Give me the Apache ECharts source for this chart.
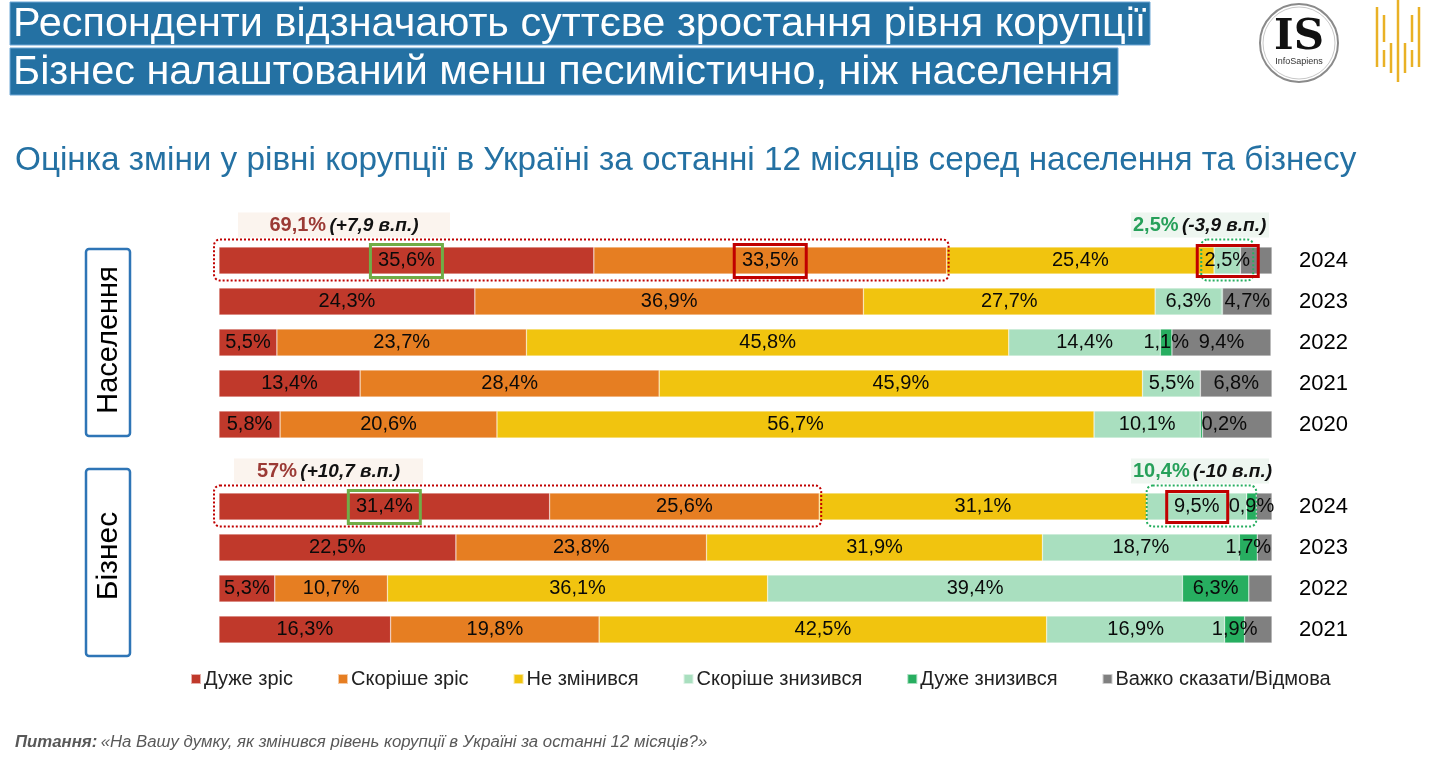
<!DOCTYPE html>
<html><head><meta charset="utf-8">
<script src="https://cdn.jsdelivr.net/npm/echarts@6/dist/echarts.min.js"></script>
<style>html,body{margin:0;padding:0;background:#fff;overflow:hidden}#c{width:1441px;height:757px;}</style>
</head><body><div id="c"></div>
<script>
// ---- data ----
const seriesNames = ['Дуже зріс','Скоріше зріс','Не змінився','Скоріше знизився','Дуже знизився','Важко сказати/Відмова'];
const colors = ['#C0392B','#E67E22','#F1C40F','#A9DFBF','#27AE60','#808080'];
const popYears = ['2024','2023','2022','2021','2020'];
const bizYears = ['2024','2023','2022','2021'];
const popStrongUp   = [35.6, 24.3, 5.5, 13.4, 5.8];
const popRatherUp   = [33.5, 36.9, 23.7, 28.4, 20.6];
const popNoChange   = [25.4, 27.7, 45.8, 45.9, 56.7];
const popRatherDown = [2.5, 6.3, 14.4, 5.5, 10.1];
const popStrongDown = [0, 0.1, 1.1, 0, 0.2];
const popHard       = [3.0, 4.7, 9.4, 6.8, 6.6];
const popHardLabeled = [false, true, true, true, false];
const bizStrongUp   = [31.4, 22.5, 5.3, 16.3];
const bizRatherUp   = [25.6, 23.8, 10.7, 19.8];
const bizNoChange   = [31.1, 31.9, 36.1, 42.5];
const bizRatherDown = [9.5, 18.7, 39.4, 16.9];
const bizStrongDown = [0.9, 1.7, 6.3, 1.9];
const bizHard       = [1.5, 1.4, 2.2, 2.6];
const bizHardLabeled = [false, false, false, false];
const groupLabels = ['Населення', 'Бізнес'];
const titleLine1 = 'Респонденти відзначають суттєве зростання рівня корупції';
const titleLine2 = 'Бізнес налаштований менш песимістично, ніж населення';
const subtitle = 'Оцінка зміни у рівні корупції в Україні за останні 12 місяців серед населення та бізнесу';
const questionLabel = 'Питання:';
const questionText = '«На Вашу думку, як змінився рівень корупції в Україні за останні 12 місяців?»';

// ---- helpers ----
const FONT = 'Arial, "Liberation Sans", sans-serif';
const fmt = v => (Math.round(v * 10) / 10).toString().replace('.', ',');
const fmtSigned = v => (v > 0 ? '+' : '') + fmt(v);

function buildSeries(gridIdx, stack, arrays, hardLabeled) {
  return arrays.map((arr, si) => ({
    name: seriesNames[si], type: 'bar', stack: stack,
    xAxisIndex: gridIdx, yAxisIndex: gridIdx,
    barWidth: 27,
    itemStyle: { color: colors[si], borderColor: 'rgba(255,255,255,0.6)', borderWidth: 0.5 },
    label: { show: true, position: 'inside', fontSize: 20, color: '#0a0a0a', fontFamily: FONT,
             formatter: p => fmt(p.value) + '%' },
    data: arr.map((v, i) => {
      const show = si === 5 ? hardLabeled[i] : v >= 0.2;
      const item = { value: v, label: { show: show } };
      if (show && v < 0.5) { item.label.position = 'insideLeft'; item.label.distance = 1; }
      return item;
    })
  }));
}

const popArrays = [popStrongUp, popRatherUp, popNoChange, popRatherDown, popStrongDown, popHard];
const bizArrays = [bizStrongUp, bizRatherUp, bizNoChange, bizRatherDown, bizStrongDown, bizHard];

const chart = echarts.init(document.getElementById('c'), null, { renderer: 'canvas' });

const yAxisCommon = {
  type: 'category', inverse: true, position: 'right',
  axisLine: { show: false }, axisTick: { show: false },
  axisLabel: { fontSize: 22, color: '#000', margin: 27, fontFamily: FONT }
};

const staticGraphic = [
  // header bars
  { type: 'rect', shape: { x: 10, y: 2, width: 1140, height: 43 }, style: { fill: '#2471A3', stroke: '#6FA8D6', lineWidth: 1 } },
  { type: 'text', x: 13, y: 25, style: { text: titleLine1, fill: '#fff', font: '41.4px ' + FONT, verticalAlign: 'middle' } },
  { type: 'rect', shape: { x: 10, y: 48, width: 1108, height: 47 }, style: { fill: '#2471A3', stroke: '#6FA8D6', lineWidth: 1 } },
  { type: 'text', x: 13, y: 73, style: { text: titleLine2, fill: '#fff', font: '41.4px ' + FONT, verticalAlign: 'middle' } },
  // subtitle
  { type: 'text', x: 15, y: 161, style: { text: subtitle, fill: '#2471A3', font: '33.3px ' + FONT, verticalAlign: 'middle' } },
  // group boxes
  { type: 'rect', shape: { x: 86, y: 249, width: 44, height: 187, r: 3 }, style: { fill: 'none', stroke: '#2E75B6', lineWidth: 2.5 } },
  { type: 'text', x: 109, y: 340, rotation: Math.PI / 2, style: { text: groupLabels[0], fill: '#000', font: '29px ' + FONT, align: 'center', verticalAlign: 'middle' } },
  { type: 'rect', shape: { x: 86, y: 469, width: 44, height: 187, r: 3 }, style: { fill: 'none', stroke: '#2E75B6', lineWidth: 2.5 } },
  { type: 'text', x: 109, y: 556, rotation: Math.PI / 2, style: { text: groupLabels[1], fill: '#000', font: '30px ' + FONT, align: 'center', verticalAlign: 'middle' } },
  // footnote
  { type: 'text', x: 15, y: 742, style: {
      text: '{b|' + questionLabel + '} {i|' + questionText + '}', verticalAlign: 'middle',
      rich: { b: { font: 'italic bold 16.8px ' + FONT, fill: '#595959' }, i: { font: 'italic 16.8px ' + FONT, fill: '#595959' } } } },
  // IS logo
  { type: 'circle', shape: { cx: 1299, cy: 43, r: 39 }, style: { fill: 'none', stroke: '#8a8a8a', lineWidth: 2 } },
  { type: 'circle', shape: { cx: 1299, cy: 43, r: 36 }, style: { fill: 'none', stroke: '#c8c8c8', lineWidth: 1 } },
  { type: 'text', x: 1299, y: 38, style: { text: 'IS', fill: '#111', font: 'bold 42px "DejaVu Serif", "Liberation Serif", serif', align: 'center', verticalAlign: 'middle' } },
  { type: 'text', x: 1299, y: 62, style: { text: 'InfoSapiens', fill: '#333', font: '9px ' + FONT, align: 'center', verticalAlign: 'middle' } }
];
// yellow bar logo
[[1377, 7, 67], [1384, 15, 42], [1384, 50, 67], [1391, 43, 73], [1398, 0, 82], [1405, 43, 73], [1412, 15, 42], [1412, 50, 67], [1419, 7, 67]]
  .forEach(l => staticGraphic.push({ type: 'line', shape: { x1: l[0], y1: l[1], x2: l[0], y2: l[2] }, style: { stroke: '#E9B125', lineWidth: 2.5 } }));

const option = {
  animation: false,
  backgroundColor: '#fff',
  textStyle: { fontFamily: FONT },
  grid: [
    { left: 219, right: 169, top: 240, height: 205 },
    { left: 219, right: 169, top: 486, height: 164 }
  ],
  xAxis: [
    { type: 'value', gridIndex: 0, min: 0, max: 100, show: false },
    { type: 'value', gridIndex: 1, min: 0, max: 100, show: false }
  ],
  yAxis: [
    Object.assign({ gridIndex: 0, data: popYears }, yAxisCommon),
    Object.assign({ gridIndex: 1, data: bizYears }, yAxisCommon)
  ],
  legend: {
    data: seriesNames, left: 185, top: 664, icon: 'rect', itemWidth: 10, itemHeight: 10, itemGap: 44,
    textStyle: { fontSize: 20, color: '#222', fontFamily: FONT, padding: [0, 0, 0, -2] }
  },
  series: buildSeries(0, 'pop', popArrays, popHardLabeled).concat(buildSeries(1, 'biz', bizArrays, bizHardLabeled)),
  graphic: staticGraphic
};
chart.setOption(option);

// ---- annotations tied to data through the axes ----
function annotate(gridIdx, arrays, years, cfg) {
  const px = (v, cat) => chart.convertToPixel({ gridIndex: gridIdx }, [v, cat]);
  const cat = years[0];
  const yc = px(0, cat)[1];
  const x0 = px(0, cat)[0];
  const red = arrays[0][0], orange = arrays[1][0];
  const upNow = red + orange, upPrev = arrays[0][1] + arrays[1][1];
  const startGreen = arrays[0][0] + arrays[1][0] + arrays[2][0];
  const lg = arrays[3][0], dg = arrays[4][0];
  const downNow = lg + dg, downPrev = arrays[3][1] + arrays[4][1];
  const g = [];
  // red dotted frame around "increased" parts
  const xUp = px(upNow, cat)[0];
  g.push({ type: 'rect', z: 10, shape: { x: x0 - 5, y: yc - 21, width: xUp - x0 + 7, height: 41, r: 6 },
           style: { fill: 'none', stroke: '#C00000', lineWidth: 2, lineDash: [2, 2] } });
  // green box around strong-up label
  const cRed = px(red / 2, cat)[0];
  g.push({ type: 'rect', z: 11, shape: { x: cRed - 36, y: yc - 16, width: 72, height: 33 },
           style: { fill: 'none', stroke: '#70AD47', lineWidth: 3 } });
  if (cfg.boxOrange) {
    const cOr = px(red + orange / 2, cat)[0];
    g.push({ type: 'rect', z: 11, shape: { x: cOr - 36, y: yc - 16, width: 72, height: 33 },
             style: { fill: 'none', stroke: '#C00000', lineWidth: 3 } });
  }
  // green dotted frame around "decreased" parts
  const xg0 = px(startGreen, cat)[0], xg1 = px(startGreen + downNow, cat)[0];
  const cg = (xg0 + xg1) / 2, wg = Math.max(xg1 - xg0, 52);
  g.push({ type: 'rect', z: 10, shape: { x: cg - wg / 2, y: yc - 21, width: wg, height: 41, r: 6 },
           style: { fill: 'none', stroke: '#27AE60', lineWidth: 2, lineDash: [2, 2] } });
  const cLg = px(startGreen + lg / 2, cat)[0];
  g.push({ type: 'rect', z: 11, shape: { x: cLg - 30, y: yc - 15, width: 61, height: 31 },
           style: { fill: 'none', stroke: '#C00000', lineWidth: 3 } });
  // summary notes
  g.push({ type: 'rect', z: 5, shape: { x: cfg.upBox[0], y: yc - 48, width: cfg.upBox[1], height: 25 }, style: { fill: '#FBF4EE' } });
  g.push({ type: 'text', z: 12, x: cfg.upBox[0] + cfg.upBox[1] / 2, y: yc - 35, style: {
    text: '{a|' + fmt(upNow) + '%} {b|(' + fmtSigned(upNow - upPrev) + ' в.п.)}', align: 'center', verticalAlign: 'middle',
    rich: { a: { font: 'bold 20px ' + FONT, fill: '#9B3A35' }, b: { font: 'italic bold 19px ' + FONT, fill: '#111' } } } });
  g.push({ type: 'rect', z: 5, shape: { x: 1131, y: yc - 48, width: 138, height: 25 }, style: { fill: '#EEF6F0' } });
  g.push({ type: 'text', z: 12, x: 1133, y: yc - 35, style: {
    text: '{a|' + fmt(downNow) + '%} {b|(' + fmtSigned(downNow - downPrev) + ' в.п.)}', verticalAlign: 'middle',
    rich: { a: { font: 'bold 20px ' + FONT, fill: '#27A05A' }, b: { font: 'italic bold 19px ' + FONT, fill: '#111' } } } });
  return g;
}

const dyn = annotate(0, popArrays, popYears, { boxOrange: true, upBox: [238, 212] })
  .concat(annotate(1, bizArrays, bizYears, { boxOrange: false, upBox: [234, 189] }));
chart.setOption({ graphic: staticGraphic.concat(dyn) });
</script>
</body></html>
